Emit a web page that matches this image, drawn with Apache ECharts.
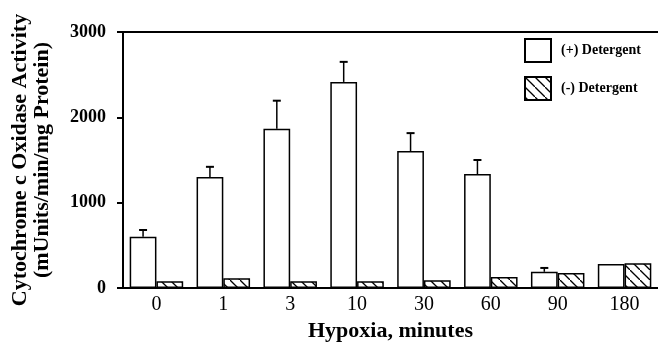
<!DOCTYPE html>
<html>
<head>
<meta charset="utf-8">
<script src="https://cdn.jsdelivr.net/npm/echarts@6/dist/echarts.min.js"></script>
<style>
  html, body { margin: 0; padding: 0; background: #fff; }
  #chart { width: 658px; height: 347px; }
</style>
</head>
<body>
<div id="chart"></div>
<script>
// data
var categories = ['0', '1', '3', '10', '30', '60', '90', '180'];
var withDetergent = [600, 1300, 1865, 2415, 1605, 1335, 190, 280];
var withDetergentErr = [680, 1420, 2195, 2650, 1815, 1500, 235, null]; // top of error bar
var withoutDetergent = [80, 115, 80, 80, 90, 130, 175, 290];
var yTicks = [0, 1000, 2000, 3000];

var serif = '"Liberation Serif", "DejaVu Serif", serif';

// diagonal hatch for the (-) bars
function hatch() {
  var c = document.createElement('canvas');
  c.width = 10; c.height = 10;
  var ctx = c.getContext('2d');
  ctx.fillStyle = '#fff';
  ctx.fillRect(0, 0, 10, 10);
  ctx.strokeStyle = '#000';
  ctx.lineWidth = 1.3;
  ctx.beginPath();
  ctx.moveTo(-1, -1); ctx.lineTo(11, 11);
  ctx.stroke();
  return c;
}

var chart = echarts.init(document.getElementById('chart'));

var errData = [];
for (var i = 0; i < categories.length; i++) {
  if (withDetergentErr[i] != null) errData.push([i, withDetergent[i], withDetergentErr[i]]);
}

var option = {
  animation: false,
  backgroundColor: '#fff',
  grid: { left: 123, right: 0, top: 32, bottom: 59 },
  legend: {
    orient: 'vertical',
    left: 524, top: 38, padding: 0,
    icon: 'rect',
    itemWidth: 26, itemHeight: 23, itemGap: 13,
    textStyle: { fontFamily: serif, fontWeight: 'bold', fontSize: 14, color: '#000', padding: [0, 0, 0, 5] },
    data: ['(+) Detergent', '(-) Detergent']
  },
  xAxis: [{
    type: 'category',
    data: categories,
    axisLine: { lineStyle: { color: '#000', width: 2 } },
    axisTick: { alignWithLabel: true, length: 6, lineStyle: { color: '#000', width: 1.5 } },
    axisLabel: { fontFamily: serif, fontSize: 20, color: '#000', margin: 7 },
    name: 'Hypoxia, minutes',
    nameLocation: 'middle',
    nameGap: 30,
    nameTextStyle: { fontFamily: serif, fontWeight: 'bold', fontSize: 22, color: '#000' }
  }, {
    type: 'category',
    position: 'top',
    data: categories,
    axisLine: { lineStyle: { color: '#000', width: 2 } },
    axisTick: { show: false },
    axisLabel: { show: false }
  }],
  yAxis: {
    type: 'value',
    min: 0, max: 3000, interval: 1000,
    splitLine: { show: false },
    axisLine: { show: true, lineStyle: { color: '#000', width: 2 } },
    axisTick: { show: true, length: 6, lineStyle: { color: '#000', width: 2 } },
    axisLabel: {
      fontFamily: serif, fontWeight: 'bold', fontSize: 18, color: '#000', margin: 17,
      formatter: function (v) { return yTicks.indexOf(v) >= 0 ? String(v) : ''; }
    },
    name: 'Cytochrome c Oxidase Activity\n(mUnits/min/mg Protein)',
    nameLocation: 'middle',
    nameGap: 70,
    nameTextStyle: { fontFamily: serif, fontWeight: 'bold', fontSize: 22, lineHeight: 22, color: '#000' }
  },
  series: [{
    name: '(+) Detergent',
    type: 'bar',
    data: withDetergent,
    barGap: '0%',
    barCategoryGap: '20%',
    itemStyle: { color: '#fff', borderColor: '#000', borderWidth: 1.5 }
  }, {
    name: '(-) Detergent',
    type: 'bar',
    data: withoutDetergent,
    itemStyle: { color: { image: hatch(), repeat: 'repeat' }, borderColor: '#000', borderWidth: 1.5 }
  }, {
    type: 'custom',
    data: errData,
    z: 5,
    renderItem: function (params, api) {
      var idx = api.value(0);
      var base = api.coord([idx, api.value(1)]);
      var top = api.coord([idx, api.value(2)]);
      var w = api.size([1, 0])[0];
      var x = base[0] - w * 0.2;
      var cap = 4;
      return {
        type: 'group',
        children: [{
          type: 'line',
          shape: { x1: x, y1: base[1], x2: x, y2: top[1] },
          style: { stroke: '#000', lineWidth: 1.5 }
        }, {
          type: 'line',
          shape: { x1: x - cap, y1: top[1], x2: x + cap, y2: top[1] },
          style: { stroke: '#000', lineWidth: 2 }
        }]
      };
    }
  }]
};

chart.setOption(option);
window.addEventListener('resize', chart.resize);
</script>
</body>
</html>
